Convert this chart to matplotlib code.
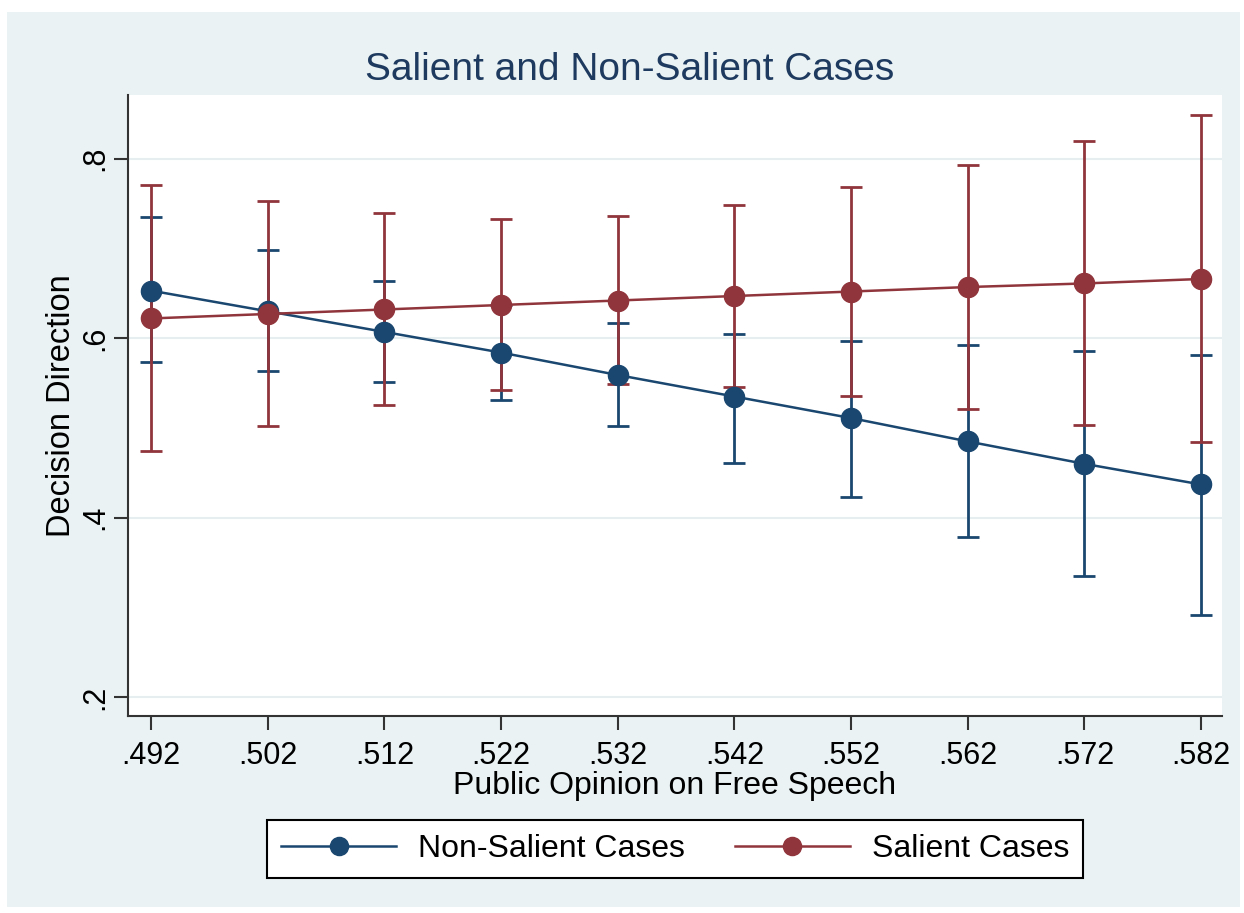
import numpy as np
import matplotlib
matplotlib.use("Agg")
import matplotlib.pyplot as plt

plt.rcParams['font.family'] = ['Liberation Sans', 'DejaVu Sans']

# public opinion values (x axis)
opinion = [0.492, 0.502, 0.512, 0.522, 0.532, 0.542, 0.552, 0.562, 0.572, 0.582]
tick_labels = ['.492', '.502', '.512', '.522', '.532', '.542', '.552', '.562', '.572', '.582']

# non-salient cases: margin and 95% CI
nonsal = [0.653, 0.630, 0.607, 0.584, 0.559, 0.535, 0.511, 0.485, 0.460, 0.437]
nonsal_lo = [0.573, 0.564, 0.551, 0.531, 0.502, 0.461, 0.423, 0.379, 0.335, 0.291]
nonsal_hi = [0.735, 0.698, 0.664, 0.637, 0.617, 0.605, 0.597, 0.592, 0.586, 0.581]

# salient cases: margin and 95% CI
sal = [0.622, 0.627, 0.632, 0.637, 0.642, 0.647, 0.652, 0.657, 0.661, 0.666]
sal_lo = [0.474, 0.502, 0.526, 0.542, 0.549, 0.546, 0.536, 0.521, 0.503, 0.484]
sal_hi = [0.771, 0.753, 0.740, 0.733, 0.736, 0.748, 0.769, 0.793, 0.820, 0.849]

y_ticks = [0.2, 0.4, 0.6, 0.8]
y_labels = ['.2', '.4', '.6', '.8']

navy = '#1a476f'
maroon = '#90353b'
bg = '#eaf2f3'

W, H = 1244, 913
fig = plt.figure(figsize=(W / 100, H / 100), dpi=100, facecolor='white')

# light background panel (Stata style graph region)
bg_ax = fig.add_axes([7 / W, 1 - 907 / H, (1240 - 7) / W, (907 - 12) / H])
bg_ax.set_facecolor(bg)
bg_ax.set_xticks([])
bg_ax.set_yticks([])
for s in bg_ax.spines.values():
    s.set_visible(False)

ax = fig.add_axes([128 / W, 1 - 716 / H, (1222 - 128) / W, (716 - 95) / H])
ax.set_facecolor('white')

x = np.array(opinion)


def ci_bars(y, lo, hi, color):
    y = np.array(y)
    err = [y - np.array(lo), np.array(hi) - y]
    ax.errorbar(x, y, yerr=err, fmt='none', ecolor=color, elinewidth=2,
                capsize=8, capthick=2, zorder=2)


ci_bars(nonsal, nonsal_lo, nonsal_hi, navy)
ci_bars(sal, sal_lo, sal_hi, maroon)
ax.plot(x, nonsal, color=navy, lw=1.8, marker='o', ms=14.5, zorder=3, label='Non-Salient Cases')
ax.plot(x, sal, color=maroon, lw=1.8, marker='o', ms=14.5, zorder=4, label='Salient Cases')

ax.set_xlim(0.49003, 0.5838)
ax.set_ylim(0.179, 0.871)
ax.set_xticks(opinion)
ax.set_xticklabels(tick_labels)
ax.set_yticks(y_ticks)
ax.set_yticklabels(y_labels, rotation=90, va='center')
ax.grid(axis='y', color='#e6eeef', lw=1.5)
ax.set_axisbelow(True)
for s in ['top', 'right']:
    ax.spines[s].set_visible(False)
for s in ['left', 'bottom']:
    ax.spines[s].set_color('#333333')
    ax.spines[s].set_linewidth(1.5)
ax.tick_params(axis='both', length=10, width=1.5, color='#333333', labelsize=22)
ax.tick_params(axis='x', pad=8)
ax.tick_params(axis='y', pad=3)

ax.set_xlabel('Public Opinion on Free Speech', fontsize=23, labelpad=0)
ax.set_ylabel('Decision Direction', fontsize=23.5, labelpad=2)
fig.text(630 / W, 1 - 70 / H, 'Salient and Non-Salient Cases', fontsize=28,
         color='#1e3a5f', ha='center', va='center')

leg = fig.legend(loc='center', bbox_to_anchor=(675 / W, 1 - 849 / H), ncol=2,
                 fontsize=23, frameon=True, fancybox=False, edgecolor='black',
                 facecolor='white', framealpha=1, handletextpad=0.68,
                 handlelength=3.6, columnspacing=1.57, borderpad=0.45, markerscale=0.9)
leg.get_frame().set_linewidth(1.5)

fig.savefig('out.png', dpi=100)
